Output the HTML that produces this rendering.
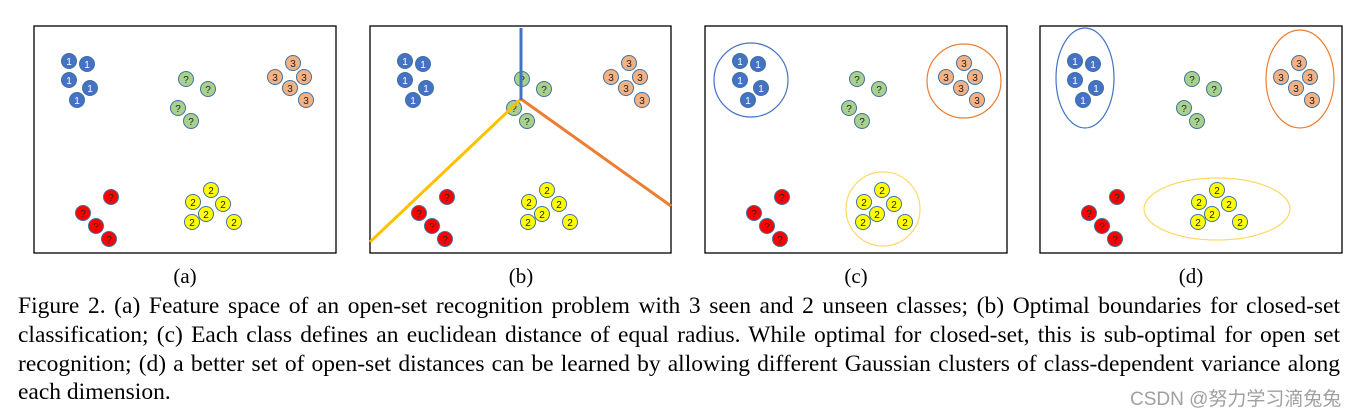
<!DOCTYPE html>
<html><head><meta charset="utf-8"><style>
body{margin:0;width:1358px;height:416px;background:#fff;position:relative;overflow:hidden;font-family:"Liberation Serif",serif}
svg{position:absolute;left:0;top:0}
.cap{position:absolute;left:18px;width:1322px;font-size:23.5px;line-height:29px;color:#000;white-space:nowrap}
.j{text-align:justify;text-align-last:justify;white-space:normal}
.wm{position:absolute;left:1130px;top:384px;font-family:"Liberation Sans","Noto Sans CJK SC",sans-serif;font-size:19px;color:#a0a0a0;white-space:nowrap}
</style></head><body>
<svg width="1358" height="290" xmlns="http://www.w3.org/2000/svg" font-family="Liberation Sans, sans-serif" font-size="10" text-anchor="middle">
<g transform="translate(34,0)">
<rect x="0" y="26" width="302" height="227" fill="none" stroke="#000" stroke-width="1.3"/>
<g stroke="#41719c" stroke-width="1">
<circle cx="35" cy="61" r="7.5" fill="#4472c4"/><circle cx="53" cy="64" r="7.5" fill="#4472c4"/><circle cx="35" cy="80" r="7.5" fill="#4472c4"/><circle cx="56" cy="88" r="7.5" fill="#4472c4"/><circle cx="43" cy="100" r="7.5" fill="#4472c4"/>
<circle cx="152" cy="79" r="7.5" fill="#a9d18e"/><circle cx="174" cy="89" r="7.5" fill="#a9d18e"/><circle cx="144" cy="108" r="7.5" fill="#a9d18e"/><circle cx="157" cy="121" r="7.5" fill="#a9d18e"/>
<circle cx="259" cy="63" r="7.5" fill="#f4b183"/><circle cx="241" cy="77" r="7.5" fill="#f4b183"/><circle cx="270" cy="77" r="7.5" fill="#f4b183"/><circle cx="256" cy="88" r="7.5" fill="#f4b183"/><circle cx="272" cy="100" r="7.5" fill="#f4b183"/>
<circle cx="77" cy="197" r="7.5" fill="#ff0000"/><circle cx="49" cy="213" r="7.5" fill="#ff0000"/><circle cx="62" cy="226" r="7.5" fill="#ff0000"/><circle cx="75" cy="239" r="7.5" fill="#ff0000"/>
<circle cx="177" cy="190" r="7.5" fill="#ffff00"/><circle cx="159" cy="202" r="7.5" fill="#ffff00"/><circle cx="189" cy="204" r="7.5" fill="#ffff00"/><circle cx="172" cy="214" r="7.5" fill="#ffff00"/><circle cx="158" cy="222" r="7.5" fill="#ffff00"/><circle cx="200" cy="222" r="7.5" fill="#ffff00"/>
</g>
<g fill="#fff"><text x="35" y="65">1</text><text x="53" y="68">1</text><text x="35" y="84">1</text><text x="56" y="92">1</text><text x="43" y="104">1</text></g>
<g fill="#222"><text x="152" y="83">?</text><text x="174" y="93">?</text><text x="144" y="112">?</text><text x="157" y="125">?</text>
<text x="259" y="67">3</text><text x="241" y="81">3</text><text x="270" y="81">3</text><text x="256" y="92">3</text><text x="272" y="104">3</text>
<text x="77" y="201">?</text><text x="49" y="217">?</text><text x="62" y="230">?</text><text x="75" y="243">?</text>
<text x="177" y="194">2</text><text x="159" y="206">2</text><text x="189" y="208">2</text><text x="172" y="218">2</text><text x="158" y="226">2</text><text x="200" y="226">2</text></g>
</g>
<g transform="translate(370,0)">
<rect x="0" y="26" width="301" height="227" fill="none" stroke="#000" stroke-width="1.3"/>
<g stroke="#41719c" stroke-width="1">
<circle cx="35" cy="61" r="7.5" fill="#4472c4"/><circle cx="53" cy="64" r="7.5" fill="#4472c4"/><circle cx="35" cy="80" r="7.5" fill="#4472c4"/><circle cx="56" cy="88" r="7.5" fill="#4472c4"/><circle cx="43" cy="100" r="7.5" fill="#4472c4"/>
<circle cx="152" cy="79" r="7.5" fill="#a9d18e"/><circle cx="174" cy="89" r="7.5" fill="#a9d18e"/><circle cx="144" cy="108" r="7.5" fill="#a9d18e"/><circle cx="157" cy="121" r="7.5" fill="#a9d18e"/>
<circle cx="259" cy="63" r="7.5" fill="#f4b183"/><circle cx="241" cy="77" r="7.5" fill="#f4b183"/><circle cx="270" cy="77" r="7.5" fill="#f4b183"/><circle cx="256" cy="88" r="7.5" fill="#f4b183"/><circle cx="272" cy="100" r="7.5" fill="#f4b183"/>
<circle cx="77" cy="197" r="7.5" fill="#ff0000"/><circle cx="49" cy="213" r="7.5" fill="#ff0000"/><circle cx="62" cy="226" r="7.5" fill="#ff0000"/><circle cx="75" cy="239" r="7.5" fill="#ff0000"/>
<circle cx="177" cy="190" r="7.5" fill="#ffff00"/><circle cx="159" cy="202" r="7.5" fill="#ffff00"/><circle cx="189" cy="204" r="7.5" fill="#ffff00"/><circle cx="172" cy="214" r="7.5" fill="#ffff00"/><circle cx="158" cy="222" r="7.5" fill="#ffff00"/><circle cx="200" cy="222" r="7.5" fill="#ffff00"/>
</g>
<g fill="#fff"><text x="35" y="65">1</text><text x="53" y="68">1</text><text x="35" y="84">1</text><text x="56" y="92">1</text><text x="43" y="104">1</text></g>
<g fill="#222"><text x="152" y="83">?</text><text x="174" y="93">?</text><text x="144" y="112">?</text><text x="157" y="125">?</text>
<text x="259" y="67">3</text><text x="241" y="81">3</text><text x="270" y="81">3</text><text x="256" y="92">3</text><text x="272" y="104">3</text>
<text x="77" y="201">?</text><text x="49" y="217">?</text><text x="62" y="230">?</text><text x="75" y="243">?</text>
<text x="177" y="194">2</text><text x="159" y="206">2</text><text x="189" y="208">2</text><text x="172" y="218">2</text><text x="158" y="226">2</text><text x="200" y="226">2</text></g>
<line x1="151" y1="99" x2="0" y2="242" stroke="#ffc000" stroke-width="3"/>
<line x1="151" y1="99" x2="301" y2="206" stroke="#ed7d31" stroke-width="3"/>
<line x1="151" y1="28" x2="151" y2="100" stroke="#4472c4" stroke-width="3"/>
</g>
<g transform="translate(705,0)">
<rect x="0" y="26" width="302" height="227" fill="none" stroke="#000" stroke-width="1.3"/>
<circle cx="46" cy="80" r="37" fill="none" stroke="#4472c4" stroke-width="1.2"/>
<circle cx="259" cy="81" r="37" fill="none" stroke="#ed7d31" stroke-width="1.2"/>
<circle cx="178" cy="209" r="37" fill="none" stroke="#ffd966" stroke-width="1.2"/>
<g stroke="#41719c" stroke-width="1">
<circle cx="35" cy="61" r="7.5" fill="#4472c4"/><circle cx="53" cy="64" r="7.5" fill="#4472c4"/><circle cx="35" cy="80" r="7.5" fill="#4472c4"/><circle cx="56" cy="88" r="7.5" fill="#4472c4"/><circle cx="43" cy="100" r="7.5" fill="#4472c4"/>
<circle cx="152" cy="79" r="7.5" fill="#a9d18e"/><circle cx="174" cy="89" r="7.5" fill="#a9d18e"/><circle cx="144" cy="108" r="7.5" fill="#a9d18e"/><circle cx="157" cy="121" r="7.5" fill="#a9d18e"/>
<circle cx="259" cy="63" r="7.5" fill="#f4b183"/><circle cx="241" cy="77" r="7.5" fill="#f4b183"/><circle cx="270" cy="77" r="7.5" fill="#f4b183"/><circle cx="256" cy="88" r="7.5" fill="#f4b183"/><circle cx="272" cy="100" r="7.5" fill="#f4b183"/>
<circle cx="77" cy="197" r="7.5" fill="#ff0000"/><circle cx="49" cy="213" r="7.5" fill="#ff0000"/><circle cx="62" cy="226" r="7.5" fill="#ff0000"/><circle cx="75" cy="239" r="7.5" fill="#ff0000"/>
<circle cx="177" cy="190" r="7.5" fill="#ffff00"/><circle cx="159" cy="202" r="7.5" fill="#ffff00"/><circle cx="189" cy="204" r="7.5" fill="#ffff00"/><circle cx="172" cy="214" r="7.5" fill="#ffff00"/><circle cx="158" cy="222" r="7.5" fill="#ffff00"/><circle cx="200" cy="222" r="7.5" fill="#ffff00"/>
</g>
<g fill="#fff"><text x="35" y="65">1</text><text x="53" y="68">1</text><text x="35" y="84">1</text><text x="56" y="92">1</text><text x="43" y="104">1</text></g>
<g fill="#222"><text x="152" y="83">?</text><text x="174" y="93">?</text><text x="144" y="112">?</text><text x="157" y="125">?</text>
<text x="259" y="67">3</text><text x="241" y="81">3</text><text x="270" y="81">3</text><text x="256" y="92">3</text><text x="272" y="104">3</text>
<text x="77" y="201">?</text><text x="49" y="217">?</text><text x="62" y="230">?</text><text x="75" y="243">?</text>
<text x="177" y="194">2</text><text x="159" y="206">2</text><text x="189" y="208">2</text><text x="172" y="218">2</text><text x="158" y="226">2</text><text x="200" y="226">2</text></g>
</g>
<g transform="translate(1040,0)">
<rect x="0" y="26" width="302" height="227" fill="none" stroke="#000" stroke-width="1.3"/>
<ellipse cx="45" cy="78" rx="29" ry="50" fill="none" stroke="#4472c4" stroke-width="1.2"/>
<ellipse cx="260" cy="79" rx="34" ry="49" fill="none" stroke="#ed7d31" stroke-width="1.2"/>
<ellipse cx="177" cy="209" rx="73" ry="31" fill="none" stroke="#ffd966" stroke-width="1.2"/>
<g stroke="#41719c" stroke-width="1">
<circle cx="35" cy="61" r="7.5" fill="#4472c4"/><circle cx="53" cy="64" r="7.5" fill="#4472c4"/><circle cx="35" cy="80" r="7.5" fill="#4472c4"/><circle cx="56" cy="88" r="7.5" fill="#4472c4"/><circle cx="43" cy="100" r="7.5" fill="#4472c4"/>
<circle cx="152" cy="79" r="7.5" fill="#a9d18e"/><circle cx="174" cy="89" r="7.5" fill="#a9d18e"/><circle cx="144" cy="108" r="7.5" fill="#a9d18e"/><circle cx="157" cy="121" r="7.5" fill="#a9d18e"/>
<circle cx="259" cy="63" r="7.5" fill="#f4b183"/><circle cx="241" cy="77" r="7.5" fill="#f4b183"/><circle cx="270" cy="77" r="7.5" fill="#f4b183"/><circle cx="256" cy="88" r="7.5" fill="#f4b183"/><circle cx="272" cy="100" r="7.5" fill="#f4b183"/>
<circle cx="77" cy="197" r="7.5" fill="#ff0000"/><circle cx="49" cy="213" r="7.5" fill="#ff0000"/><circle cx="62" cy="226" r="7.5" fill="#ff0000"/><circle cx="75" cy="239" r="7.5" fill="#ff0000"/>
<circle cx="177" cy="190" r="7.5" fill="#ffff00"/><circle cx="159" cy="202" r="7.5" fill="#ffff00"/><circle cx="189" cy="204" r="7.5" fill="#ffff00"/><circle cx="172" cy="214" r="7.5" fill="#ffff00"/><circle cx="158" cy="222" r="7.5" fill="#ffff00"/><circle cx="200" cy="222" r="7.5" fill="#ffff00"/>
</g>
<g fill="#fff"><text x="35" y="65">1</text><text x="53" y="68">1</text><text x="35" y="84">1</text><text x="56" y="92">1</text><text x="43" y="104">1</text></g>
<g fill="#222"><text x="152" y="83">?</text><text x="174" y="93">?</text><text x="144" y="112">?</text><text x="157" y="125">?</text>
<text x="259" y="67">3</text><text x="241" y="81">3</text><text x="270" y="81">3</text><text x="256" y="92">3</text><text x="272" y="104">3</text>
<text x="77" y="201">?</text><text x="49" y="217">?</text><text x="62" y="230">?</text><text x="75" y="243">?</text>
<text x="177" y="194">2</text><text x="159" y="206">2</text><text x="189" y="208">2</text><text x="172" y="218">2</text><text x="158" y="226">2</text><text x="200" y="226">2</text></g>
</g>
<g font-family="Liberation Serif, serif" font-size="21" fill="#000">
<text x="185" y="283">(a)</text><text x="521" y="283">(b)</text><text x="856" y="283">(c)</text><text x="1191" y="283">(d)</text>
</g>
</svg>
<div class="cap j" style="top:292px">Figure 2. (a) Feature space of an open-set recognition problem with 3 seen and 2 unseen classes; (b) Optimal boundaries for closed-set</div>
<div class="cap j" style="top:321px">classification; (c) Each class defines an euclidean distance of equal radius. While optimal for closed-set, this is sub-optimal for open set</div>
<div class="cap j" style="top:350px">recognition; (d) a better set of open-set distances can be learned by allowing different Gaussian clusters of class-dependent variance along</div>
<div class="cap" style="top:378px">each dimension.</div>
<div class="wm">CSDN @努力学习滴兔兔</div>
</body></html>
